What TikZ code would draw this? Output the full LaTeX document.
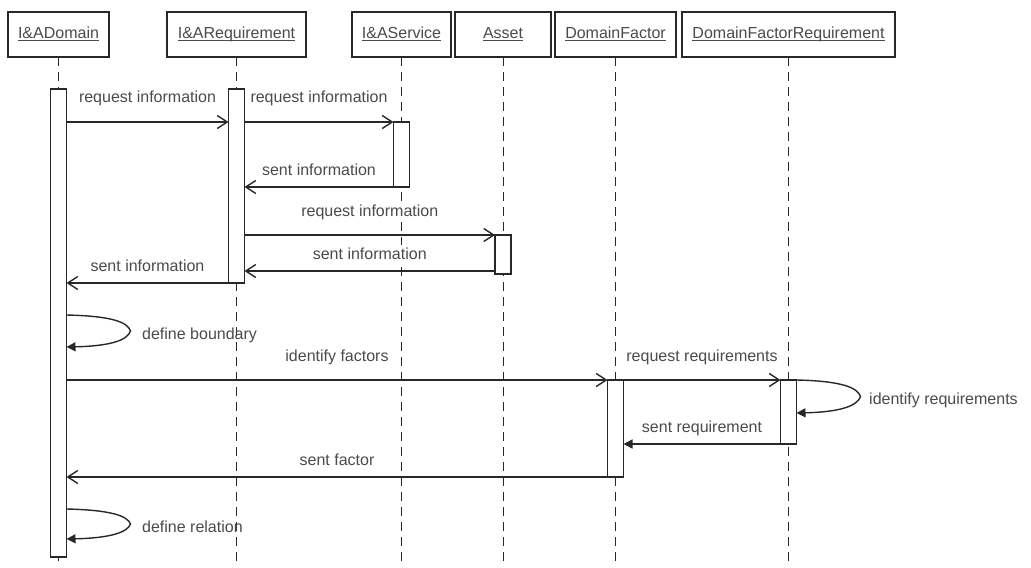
\documentclass[tikz,border=0pt]{standalone}
\usepackage{fontspec}
\setmainfont{Liberation Sans}
\usepackage{tikz}
\usetikzlibrary{arrows.meta,calc,positioning}
\definecolor{my_black}{RGB}{40, 40, 40}
\definecolor{my_gray}{RGB}{75, 75, 75}
\newcommand{\seqfont}{\fontsize{8}{9.6}\selectfont}
% object names: underline at a fixed depth, through the descenders
\newcommand{\objname}[1]{\setbox0\hbox{#1}\rlap{\rule[-1.1pt]{\wd0}{0.45pt}}\box0}
\tikzset{
  obj_box/.style = {draw=my_black, line width=0.75pt, fill=white, minimum height=22.5pt,
  inner sep=0pt, outer sep=0pt, text height=6pt, text depth=2pt, text=my_gray, font=\seqfont},
  act_bar/.style = {draw=my_black, line width=0.75pt, fill=white, minimum width=8pt,
  inner sep=0pt, outer sep=0pt},
  life_line/.style = {draw=my_black, line width=0.5pt, dash pattern=on 4.5pt off 3pt},
  lbl_call/.style = {anchor=base, yshift=9.5pt, fill=white, inner sep=1pt, text=my_gray},
  lbl_back/.style = {anchor=base, yshift=6pt, fill=white, inner sep=1pt, text=my_gray},
  lbl_self/.style = {anchor=base west, xshift=5.5pt, yshift=-4pt, inner sep=0pt, text=my_gray}
}

\begin{document}
\begin{tikzpicture}[x=0.5pt, y=-0.5pt, font=\seqfont,
    >={Straight Barb[length=5pt,width=6.5pt]},
    msg/.style={->, draw=my_black, line width=0.7pt},
    msg_sync/.style={-{Triangle[length=4.5pt,width=4.5pt]}, draw=my_black, line width=0.7pt},
    msg_self/.style={msg_sync}]
    \fill[white] (0,0) rectangle (1031,567);
    \useasboundingbox (0,0) rectangle (1031,567);

    % objects
    \node [obj_box, minimum width=50.5pt] (dom) at (58.5,34.5) {\objname{I\&ADomain}};
    \node [obj_box, minimum width=69.5pt, right=29pt of dom] (req) {\objname{I\&ARequirement}};
    \node [obj_box, minimum width=49.5pt, right=23pt of req] (svc) {\objname{I\&AService}};
    \node [obj_box, minimum width=48pt, right=2pt of svc] (asset) {\objname{Asset}};
    \node [obj_box, minimum width=60.5pt, right=2pt of asset] (fac) {\objname{DomainFactor}};
    \node [obj_box, minimum width=106.5pt, right=3pt of fac] (facreq) {\objname{DomainFactorRequirement}};

    % lifelines
    \foreach \obj in {dom,req,svc,asset,fac,facreq}
        \draw[life_line] (\obj.south) -- (\obj.south |- 0,567);

    % activations
    \node [act_bar, minimum height=234pt, below=16pt of dom] (a1) {};
    \node [act_bar, minimum height=97pt, below=16pt of req] (a2) {};
    \node [act_bar, minimum height=32.5pt, below=32.5pt of svc] (a3) {};
    \node [act_bar, minimum height=19.5pt, below=89pt of asset] (a4) {};
    \node [act_bar, minimum height=48.5pt, below=161.5pt of fac] (a5) {};
    \node [act_bar, minimum height=32pt, below=161.5pt of facreq] (a6) {};

    % gathering information
    \draw[msg] (a1.east |- 0,122) -- (a2.west |- 0,122) node[midway, lbl_call] {request information};
    \draw[msg] (a2.east |- 0,122) -- (a3.west |- 0,122) node[midway, lbl_call] {request information};
    \draw[msg] (a3.west |- 0,187) -- (a2.east |- 0,187) node[midway, lbl_back] {sent information};
    \draw[msg] (a2.east |- 0,235) -- (a4.west |- 0,235) node[midway, lbl_call] {request information};
    \draw[msg] (a4.west |- 0,271) -- (a2.east |- 0,271) node[midway, lbl_back] {sent information};
    \draw[msg] (a2.west |- 0,283) -- (a1.east |- 0,283) node[midway, lbl_back] {sent information};
    \draw[msg_self] (a1.east |- 0,315) .. controls +(45,1) and +(-3,-9) .. ++(64,16)
        node[lbl_self] {define boundary}
        .. controls +(-3,9) and +(45,-1) .. (a1.east |- 0,347);

    % factors
    \draw[msg] (a1.east |- 0,380) -- (a5.west |- 0,380) node[midway, lbl_call] {identify factors};
    \draw[msg] (a5.east |- 0,380) -- (a6.west |- 0,380) node[midway, lbl_call] {request requirements};
    \draw[msg_self] (a6.east |- 0,380) .. controls +(45,1) and +(-3,-9) .. ++(64,16.5)
        node[lbl_self, xshift=-1.5pt] {identify requirements}
        .. controls +(-3,9) and +(45,-1) .. (a6.east |- 0,413);
    \draw[msg_sync] (a6.west |- 0,444) -- (a5.east |- 0,444) node[midway, lbl_back] {sent requirement};
    \draw[msg] (a5.west |- 0,477) -- (a1.east |- 0,477) node[midway, lbl_back] {sent factor};
    \draw[msg_self] (a1.east |- 0,509) .. controls +(45,1) and +(-3,-8) .. ++(64,15)
        node[lbl_self] {define relation}
        .. controls +(-3,8) and +(45,-1) .. (a1.east |- 0,539);
\end{tikzpicture}
\end{document}
